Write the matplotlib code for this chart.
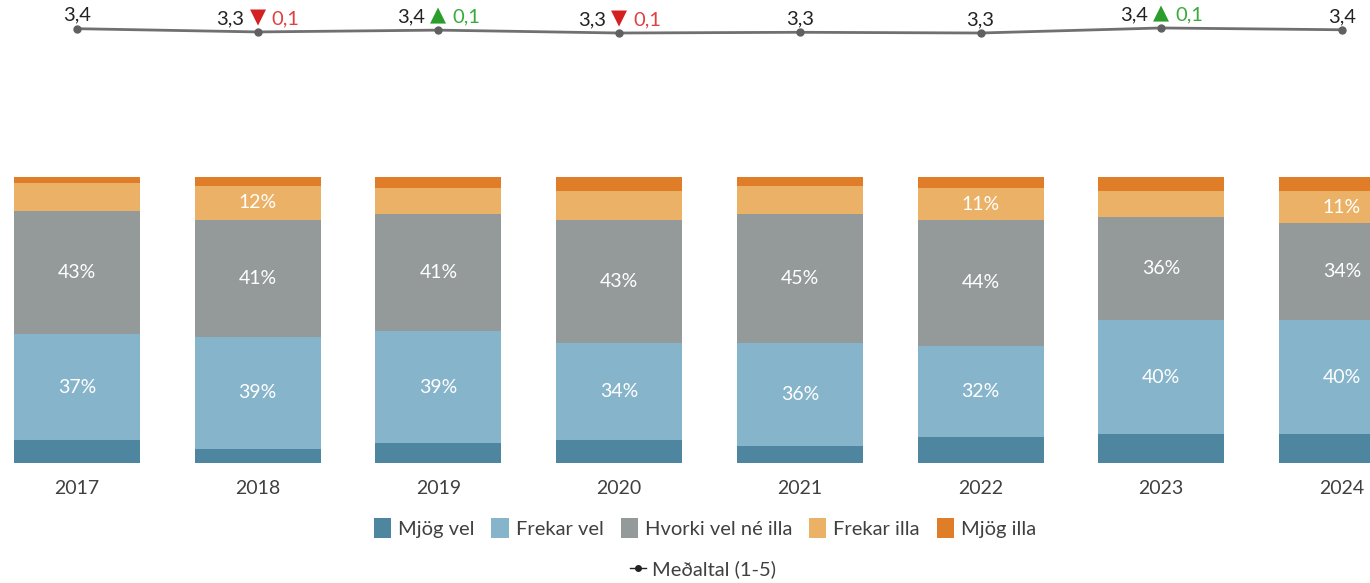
import matplotlib
matplotlib.use("Agg")
import matplotlib.pyplot as plt
from matplotlib.patches import Patch
from matplotlib.lines import Line2D

plt.rcParams['font.family'] = ['Lato', 'DejaVu Sans']

# gögn
years = ['2017', '2018', '2019', '2020', '2021', '2022', '2023', '2024']
categories = ['Mjög vel', 'Frekar vel', 'Hvorki vel né illa', 'Frekar illa', 'Mjög illa']
mjog_vel = [8, 5, 7, 8, 6, 9, 10, 10]
frekar_vel = [37, 39, 39, 34, 36, 32, 40, 40]
hvorki = [43, 41, 41, 43, 45, 44, 36, 34]
frekar_illa = [10, 12, 9, 10, 10, 11, 9, 11]
mjog_illa = [2, 3, 4, 5, 3, 4, 5, 5]
medaltal = [3.42, 3.33, 3.38, 3.30, 3.32, 3.30, 3.44, 3.39]
breyting = [0, -0.1, 0.1, -0.1, 0, 0, 0.1, 0]

colors = ['#4e86a0', '#86b5cb', '#949a9a', '#ebb166', '#e07d28']
series = [mjog_vel, frekar_vel, hvorki, frekar_illa, mjog_illa]

W, H = 1370, 583
fig = plt.figure(figsize=(W / 100, H / 100), dpi=100)

step = 180.7
xlim = (-77 / step, (W - 77) / step)

# súlur
ax = fig.add_axes([0, (H - 463) / H, 1, 286 / H])
x = list(range(len(years)))
bottom = [0] * len(years)
for vals, col in zip(series, colors):
    ax.bar(x, vals, width=126 / step, bottom=bottom, color=col, edgecolor='none')
    for i, v in enumerate(vals):
        if v >= 11:
            ax.text(i, bottom[i] + v / 2, '%d%%' % v, ha='center', va='center',
                    color='white', fontsize=14)
    bottom = [b + v for b, v in zip(bottom, vals)]
ax.set_xlim(*xlim)
ax.set_ylim(0, 100)
ax.set_xticks(x)
ax.set_xticklabels(years, fontsize=14, color='#404040')
ax.tick_params(axis='x', length=0, pad=12)
ax.set_yticks([])
for s in ax.spines.values():
    s.set_visible(False)

# meðaltalslína
ax2 = fig.add_axes([0, (H - 60) / H, 1, 60 / H])
ax2.plot(x, medaltal, color='#707070', lw=2, marker='o', markersize=5,
         markerfacecolor='#606060', markeredgecolor='#606060')
ax2.set_xlim(*xlim)
ax2.set_ylim(2.55, 4.217)
ax2.axis('off')
for i, (m, d) in enumerate(zip(medaltal, breyting)):
    txt = ('%.1f' % m).replace('.', ',')
    if d == 0:
        ax2.annotate(txt, (i, m), xytext=(0, 3.5), textcoords='offset points',
                     ha='center', va='bottom', fontsize=14.5, color='#222222')
    else:
        col = '#d42020' if d < 0 else '#2a9d2a'
        tcol = '#e04040' if d < 0 else '#3aaa3a'
        sym = '▼' if d < 0 else '▲'
        ax2.annotate(txt, (i, m), xytext=(-9.5, 3.5), textcoords='offset points',
                     ha='right', va='bottom', fontsize=14.5, color='#222222')
        ax2.annotate(sym, (i, m), xytext=(0, 3.5), textcoords='offset points',
                     ha='center', va='bottom', fontsize=15, color=col,
                     family=['DejaVu Sans'])
        ax2.annotate(('%.1f' % abs(d)).replace('.', ','), (i, m), xytext=(10, 3.5),
                     textcoords='offset points', ha='left', va='bottom',
                     fontsize=14.5, color=tcol)

# skýringar
handles = [Patch(facecolor=c, edgecolor='none') for c in colors]
fig.legend(handles, categories, loc='center', bbox_to_anchor=(705 / W, 1 - 528 / H),
           ncol=5, frameon=False, fontsize=14.5, handlelength=0.85, handleheight=1.1,
           handletextpad=0.35, columnspacing=0.85, labelcolor='#404040')
fig.legend([Line2D([0], [0], color='#222222', lw=1, marker='o', markersize=4)],
           ['Meðaltal (1-5)'], loc='center', bbox_to_anchor=(703 / W, 1 - 569 / H),
           frameon=False, fontsize=14.5, handlelength=0.8, handletextpad=0.3,
           labelcolor='#404040')

fig.savefig('out.png', dpi=100)
